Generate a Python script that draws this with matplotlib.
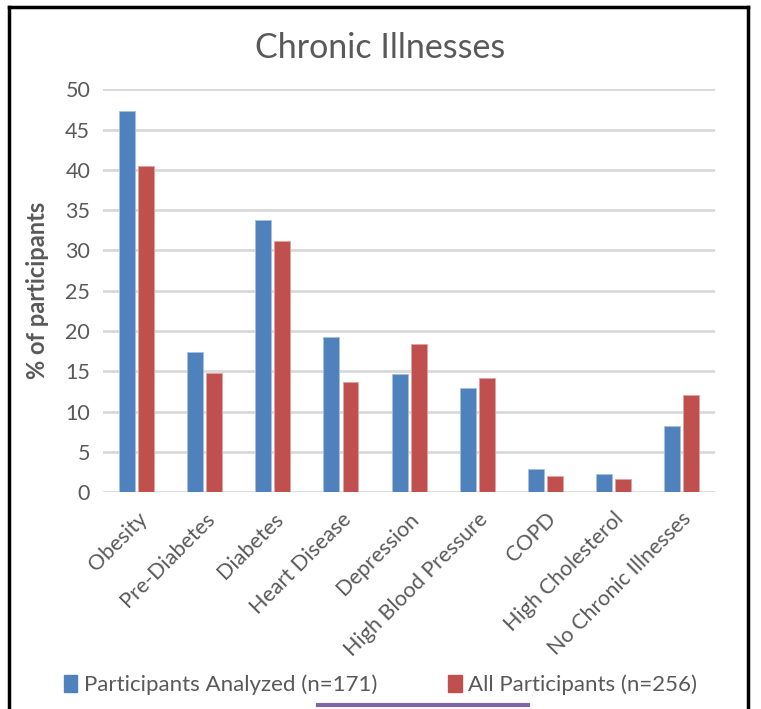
import matplotlib
matplotlib.use("Agg")
import matplotlib.pyplot as plt
from matplotlib.patches import Rectangle
from matplotlib.lines import Line2D
import numpy as np

categories = ["Obesity", "Pre-Diabetes", "Diabetes", "Heart Disease", "Depression",
              "High Blood Pressure", "COPD", "High Cholesterol", "No Chronic Illnesses"]
analyzed = [47.3, 17.4, 33.8, 19.3, 14.6, 12.9, 2.9, 2.3, 8.2]
all_participants = [40.5, 14.8, 31.2, 13.7, 18.4, 14.1, 2.0, 1.6, 12.1]
series_names = ["Participants Analyzed (n=171)", "All Participants (n=256)"]
yticks = [0, 5, 10, 15, 20, 25, 30, 35, 40, 45, 50]

BLUE = "#4F81BD"
RED = "#C0504D"
TEXT = "#595959"
GRID = "#D9D9D9"

plt.rcParams["font.family"] = ["Lato", "DejaVu Sans"]

fig = plt.figure(figsize=(7.61, 7.09), dpi=100)
ax = fig.add_axes([0.135, 0.306, 0.805, 0.568])

x = np.arange(len(categories))
w = 0.235
gap = 0.045
ax.bar(x - (w + gap) / 2, analyzed, width=w, color=BLUE, edgecolor="#A7C0DE", linewidth=0.6, zorder=3)
ax.bar(x + (w + gap) / 2, all_participants, width=w, color=RED, edgecolor="#E0A3A1", linewidth=0.6, zorder=3)

ax.set_xlim(-0.5, len(categories) - 0.5)
ax.set_ylim(0, 50)
ax.set_yticks(yticks)
ax.set_yticklabels([str(t) for t in yticks], fontsize=15.5, color=TEXT)
ax.yaxis.grid(True, color=GRID, linewidth=2)
ax.set_axisbelow(True)
for s in ax.spines.values():
    s.set_visible(False)
ax.tick_params(axis="both", length=0)
ax.tick_params(axis="y", pad=9)

ax.set_xticks(x)
ax.set_xticklabels(categories, rotation=45, ha="right", rotation_mode="anchor",
                   fontsize=15.5, color=TEXT)
ax.tick_params(axis="x", pad=12)

ax.set_ylabel("% of participants", fontsize=17, color=TEXT, fontweight="bold", labelpad=12)
fig.text(0.5, 0.932, "Chronic Illnesses", ha="center", va="center", fontsize=24.5, color=TEXT)

handles = [Rectangle((0, 0), 1, 1, color=BLUE), Rectangle((0, 0), 1, 1, color=RED)]
fig.legend(handles, series_names, loc="center", bbox_to_anchor=(0.5, 0.034), ncol=2,
           frameon=False, fontsize=16, labelcolor=TEXT, handlelength=0.6, handleheight=0.8,
           handletextpad=0.3, columnspacing=3.2)

# outer frame and lower accent line
fig.add_artist(Line2D([0.012, 0.012], [0.0, 0.99], color="black", linewidth=2.5, transform=fig.transFigure))
fig.add_artist(Line2D([0.983, 0.983], [0.0, 0.99], color="black", linewidth=2.5, transform=fig.transFigure))
fig.add_artist(Line2D([0.012, 0.983], [0.99, 0.99], color="black", linewidth=2.5, transform=fig.transFigure))
fig.add_artist(Line2D([0.418, 0.694], [0.006, 0.006], color="#7F64A8", linewidth=3, transform=fig.transFigure))

fig.savefig("out.png", dpi=100, facecolor="white")
